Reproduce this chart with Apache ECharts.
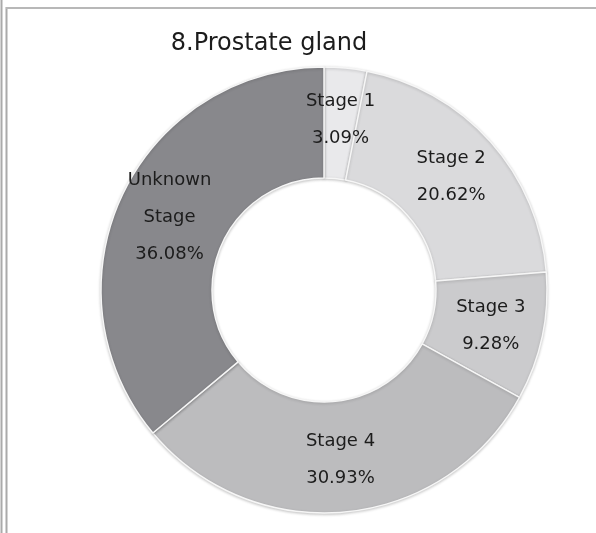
<!DOCTYPE html>
<html>
<head>
<meta charset="utf-8">
<script src="https://cdn.jsdelivr.net/npm/echarts@6/dist/echarts.min.js"></script>
<style>
  html, body { margin: 0; padding: 0; background: #fff; }
  #chart { width: 596px; height: 533px; }
</style>
</head>
<body>
<div id="chart"></div>
<script>
// data
const categories = ['Stage 1', 'Stage 2', 'Stage 3', 'Stage 4', 'Unknown Stage']
const percents = [3.09, 20.62, 9.28, 30.93, 36.08]
const sliceColors = ['#e9e9eb', '#dadadc', '#cbcbcd', '#bcbcbe', '#88888c']

let chart = echarts.init(document.getElementById('chart'))

// label text: Unknown Stage is split into two lines
function labelText(p){
  const name = p.name === 'Unknown Stage' ? 'Unknown\nStage' : p.name
  return name + '\n' + p.value.toFixed(2) + '%'
}

const option = {
  backgroundColor: '#fff',
  animation: false,
  title: {
    text: '8.Prostate gland',
    left: 264,
    top: 27,
    textAlign: 'center',
    textStyle: {
      fontFamily: 'DejaVu Sans',
      fontSize: 24,
      fontWeight: 'normal',
      color: '#1c1c1c'
    }
  },
  graphic: [
    {type: 'line', shape: {x1: 1.5, y1: 0, x2: 1.5, y2: 533}, style: {stroke: '#aaa', lineWidth: 2}},
    {type: 'line', shape: {x1: 6.5, y1: 7, x2: 6.5, y2: 533}, style: {stroke: '#aaa', lineWidth: 2}},
    {type: 'line', shape: {x1: 6, y1: 8, x2: 596, y2: 8}, style: {stroke: '#b8b8b8', lineWidth: 2}}
  ],
  series: [
    {
      type: 'pie',
      center: [324, 290],
      radius: [112, 223],
      startAngle: 90,
      clockwise: true,
      avoidLabelOverlap: false,
      label: {
        position: 'inside',
        formatter: labelText,
        fontFamily: 'DejaVu Sans',
        fontSize: 18,
        lineHeight: 37,
        color: '#1c1c1c'
      },
      labelLine: {show: false},
      itemStyle: {
        borderColor: '#f6f6f6',
        borderWidth: 1.5,
        shadowBlur: 3,
        shadowOffsetY: 1,
        shadowColor: 'rgba(0,0,0,0.2)'
      },
      emphasis: {disabled: true},
      data: categories.map((c, i) => ({
        name: c,
        value: percents[i],
        itemStyle: {color: sliceColors[i]}
      }))
    }
  ]
}

chart.setOption(option)
</script>
</body>
</html>
